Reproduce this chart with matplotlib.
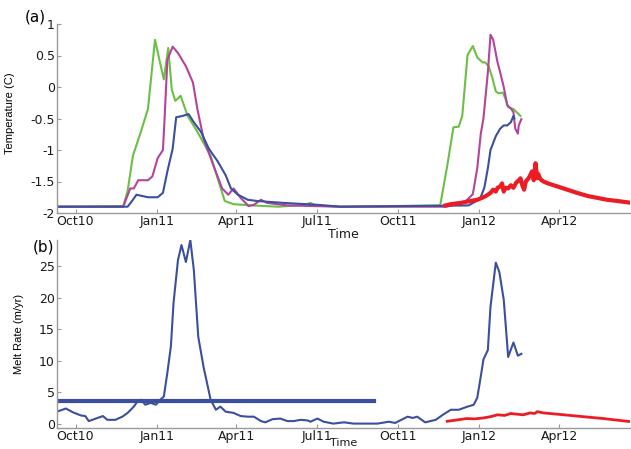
import numpy as np
import matplotlib
matplotlib.use("Agg")
import matplotlib.pyplot as plt
import matplotlib.dates as mdates

plt.rcParams['axes.unicode_minus'] = False
plt.rcParams['font.family'] = ['DejaVu Sans']

BASE = np.datetime64('2010-10-01')

# ---- panel (a): temperature, days since 2010-10-01 ----
green_day = [-20, 54, 59, 65, 74, 82, 90, 95, 100, 105, 109, 113, 119, 127, 138, 153, 169, 179, 200, 230,
             260, 266, 272, 300, 413, 421, 428, 434, 438, 444, 450, 455, 461, 464, 468, 472, 476, 479, 484,
             487, 490, 496, 504]
green_T = [-1.9, -1.89, -1.65, -1.09, -0.71, -0.35, 0.75, 0.43, 0.12, 0.62, -0.04, -0.22, -0.14, -0.46, -0.71,
           -1.09, -1.81, -1.86, -1.88, -1.9, -1.87, -1.84, -1.88, -1.9, -1.88, -1.25, -0.64, -0.63, -0.46,
           0.51, 0.65, 0.47, 0.39, 0.39, 0.33, 0.15, -0.07, -0.1, -0.09, -0.19, -0.32, -0.35, -0.46]

magenta_day = [-20, 54, 62, 66, 71, 82, 87, 93, 99, 101, 104, 110, 116, 125, 133, 138, 145, 156, 166, 173,
               179, 187, 196, 202, 210, 217, 240, 300, 420, 440, 450, 455, 459, 462, 467, 470, 473, 478,
               481, 485, 489, 493, 496, 498, 501, 502, 505]
magenta_T = [-1.9, -1.9, -1.61, -1.61, -1.48, -1.48, -1.42, -1.13, -1.0, -0.46, 0.43, 0.64, 0.54, 0.33, 0.07,
             -0.35, -0.82, -1.24, -1.61, -1.71, -1.61, -1.76, -1.89, -1.87, -1.79, -1.84, -1.88, -1.9, -1.9,
             -1.84, -1.7, -1.29, -0.74, -0.5, 0.23, 0.83, 0.75, 0.39, 0.23, 0.0, -0.29, -0.34, -0.4, -0.66,
             -0.74, -0.61, -0.51]

blue_day = [-20, 59, 65, 69, 82, 93, 99, 104, 110, 114, 121, 128, 134, 142, 151, 161, 170, 176, 184, 195,
            206, 236, 274, 300, 445, 458, 463, 467, 470, 476, 481, 485, 489, 493, 496, 497]
blue_T = [-1.9, -1.9, -1.79, -1.71, -1.75, -1.75, -1.68, -1.34, -0.98, -0.48, -0.46, -0.43, -0.56, -0.71,
          -0.98, -1.18, -1.4, -1.61, -1.71, -1.79, -1.81, -1.84, -1.87, -1.9, -1.88, -1.78, -1.6, -1.29,
          -1.0, -0.78, -0.66, -0.61, -0.61, -0.56, -0.46, -0.5]

red_day = [419, 425, 436, 447, 455, 462, 466, 470, 473, 476, 478, 481, 483, 485, 487, 490, 493, 496, 499,
           502, 504, 506, 508, 510, 513, 515, 517, 519, 521, 523, 524, 525, 527, 530, 535, 546, 557, 568,
           580, 591, 602, 614, 625, 630]
red_T = [-1.88, -1.86, -1.84, -1.81, -1.79, -1.75, -1.72, -1.68, -1.63, -1.66, -1.6, -1.58, -1.53, -1.66,
         -1.6, -1.61, -1.56, -1.6, -1.52, -1.48, -1.45, -1.56, -1.63, -1.5, -1.45, -1.4, -1.34, -1.48,
         -1.21, -1.45, -1.38, -1.42, -1.47, -1.5, -1.53, -1.58, -1.63, -1.68, -1.73, -1.76, -1.79, -1.81,
         -1.83, -1.84]

# ---- panel (b): melt rate ----
melt_day = [-20, -11, -3, 6, 11, 15, 23, 31, 36, 45, 53, 59, 66, 70, 74, 79, 85, 91, 96, 100, 104, 108, 111,
            116, 120, 125, 130, 134, 139, 145, 153, 159, 164, 170, 179, 187, 195, 202, 210, 215, 223, 232,
            240, 247, 255, 263, 266, 274, 281, 292, 304, 315, 342, 355, 362, 376, 382, 387, 396, 408, 416,
            425, 434, 444, 451, 455, 459, 462, 467, 470, 476, 480, 485, 490, 496, 501, 505]
melt_rate = [1.95, 2.4, 1.8, 1.3, 1.2, 0.4, 0.8, 1.2, 0.6, 0.6, 1.1, 1.7, 2.7, 3.5, 3.8, 3.0, 3.3, 3.0, 3.8,
             4.3, 8.1, 12.3, 19.2, 26.0, 28.4, 25.7, 29.2, 24.4, 13.8, 9.0, 3.8, 2.2, 2.7, 1.9, 1.7, 1.2,
             1.1, 1.1, 0.4, 0.2, 0.7, 0.8, 0.4, 0.4, 0.6, 0.5, 0.3, 0.8, 0.3, 0.0, 0.2, 0.0, 0.0, 0.3,
             0.1, 1.1, 0.9, 1.1, 0.2, 0.6, 1.4, 2.2, 2.2, 2.7, 3.0, 4.1, 7.5, 10.2, 11.7, 18.6, 25.6,
             24.1, 19.7, 10.6, 12.9, 10.8, 11.1]

mean_day = [-20, 338]
mean_rate = [3.55, 3.55]

red_melt_day = [421, 433, 443, 452, 462, 470, 478, 486, 493, 500, 507, 515, 520, 523, 530, 553, 575, 598, 629]
red_melt_rate = [0.37, 0.6, 0.8, 0.75, 0.9, 1.1, 1.4, 1.3, 1.6, 1.5, 1.4, 1.7, 1.6, 1.9, 1.7, 1.4, 1.1, 0.8, 0.3]

tick_dates = ['2010-10-01', '2011-01-01', '2011-04-01', '2011-07-01', '2011-10-01', '2012-01-01', '2012-04-01']


def d(days):
    return BASE + np.array([int(round(x * 24)) for x in days]).astype('timedelta64[h]')


GREEN = '#6cbf45'
MAGENTA = '#b2449e'
BLUE = '#3c4f9e'
RED = '#ec1c24'
SPINE = '#9a9a9a'

fig = plt.figure(figsize=(6.31, 4.49), dpi=100)
ax1 = fig.add_axes([57 / 631, 1 - 213 / 449, 573 / 631, 189 / 449])
ax2 = fig.add_axes([57 / 631, 1 - 428 / 449, 573 / 631, 188 / 449])

ax1.plot(d(green_day), green_T, color=GREEN, lw=1.5)
ax1.plot(d(magenta_day), magenta_T, color=MAGENTA, lw=1.5)
ax1.plot(d(blue_day), blue_T, color=BLUE, lw=1.5)
ax1.plot(d(red_day), red_T, color=RED, lw=3)
ax1.set_ylim(-2, 1)
ax1.set_yticks([-2, -1.5, -1, -0.5, 0, 0.5, 1])
ax1.set_yticklabels(['-2', '-1.5', '-1', '-0.5', '0', '0.5', '1'])

ax2.plot(d(melt_day), melt_rate, color=BLUE, lw=1.5)
ax2.plot(d(mean_day), mean_rate, color=BLUE, lw=3)
ax2.plot(d(red_melt_day), red_melt_rate, color=RED, lw=2)
ax2.set_ylim(-0.7, 29.2)
ax2.set_yticks([0, 5, 10, 15, 20, 25])

xt = [np.datetime64(t) for t in tick_dates]
for ax in (ax1, ax2):
    ax.set_xlim(np.datetime64('2010-09-10'), np.datetime64('2012-06-20'))
    ax.set_xticks(xt)
    ax.xaxis.set_major_formatter(mdates.DateFormatter('%b%y'))
    for s in ('top', 'right'):
        ax.spines[s].set_visible(False)
    for s in ('left', 'bottom'):
        ax.spines[s].set_color(SPINE)
        ax.spines[s].set_linewidth(1.0)
    ax.tick_params(direction='in', length=3, color=SPINE, labelsize=9, pad=1.5, labelcolor='#1a1a1a')

ax1.set_xlabel('Time', fontsize=9, labelpad=0, color='#1a1a1a')
ax2.set_xlabel('Time', fontsize=8, labelpad=-3.5, color='#1a1a1a')

narrow = ['Liberation Sans Narrow', 'Liberation Sans', 'DejaVu Sans']
ax1.set_ylabel('Temperature (C)', fontsize=8, family=narrow)
ax1.yaxis.set_label_coords(-0.073, 0.53)
ax2.set_ylabel('Melt Rate (m/yr)', fontsize=8, family=narrow)
ax2.yaxis.set_label_coords(-0.057, 0.5)

fig.text(25 / 631, 1 - 17 / 449, '(a)', fontsize=11, va='center', ha='left')
fig.text(33 / 631, 1 - 247 / 449, '(b)', fontsize=11, va='center', ha='left')

fig.savefig('out.png', dpi=100)
